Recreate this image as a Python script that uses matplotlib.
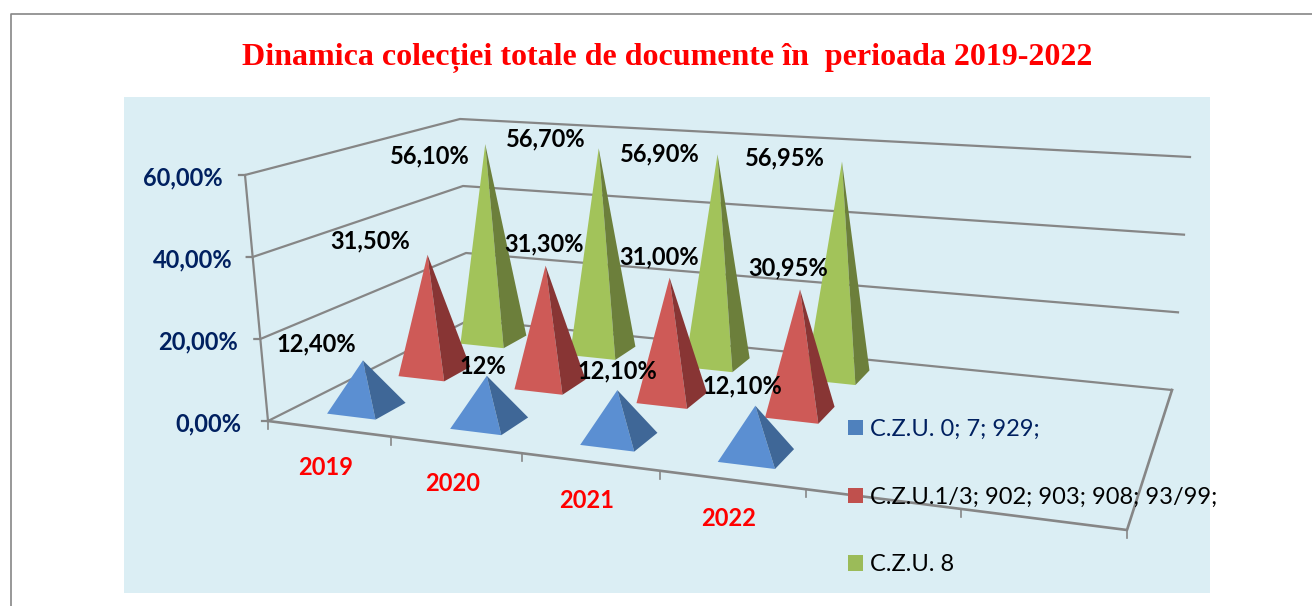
import numpy as np
import matplotlib
matplotlib.use("Agg")
import matplotlib.pyplot as plt
from matplotlib.patches import Polygon, Rectangle

# values
years = ["2019", "2020", "2021", "2022"]
series_names = ["C.Z.U. 0; 7; 929;", "C.Z.U.1/3; 902; 903; 908; 93/99;", "C.Z.U. 8"]
blue_vals = [12.40, 12.00, 12.10, 12.10]
red_vals = [31.50, 31.30, 31.00, 30.95]
green_vals = [56.10, 56.70, 56.90, 56.95]
blue_text = ["12,40%", "12%", "12,10%", "12,10%"]
red_text = ["31,50%", "31,30%", "31,00%", "30,95%"]
green_text = ["56,10%", "56,70%", "56,90%", "56,95%"]
y_ticks = [0, 20, 40, 60]
y_tick_text = ["0,00%", "20,00%", "40,00%", "60,00%"]

GRID = "#868686"
NAVY = "#002060"
light = ["#5B8FD2", "#CE5A57", "#A2C35A"]
dark = ["#3F6797", "#883534", "#6C7F3B"]
n_slots = 6  # the axis has two empty category slots after 2022

# floor corners of the 3d box on the canvas (front-left, front-right, back-right, back-left)
floor = np.array([[268, 421], [1127, 530], [1172, 390], [469, 320]], dtype=float)
# how far a 60% wall reaches above each corner
rise = np.array([[-23, -246], [4, -277], [18, -233], [-9, -201]], dtype=float)


def get_homography():
    src = [(0, 0), (1, 0), (1, 1), (0, 1)]
    A, b = [], []
    for (u, v), (x, y) in zip(src, floor):
        A.append([u, v, 1, 0, 0, 0, -u * x, -v * x])
        A.append([0, 0, 0, u, v, 1, -u * y, -v * y])
        b += [x, y]
    return np.append(np.linalg.solve(np.array(A), np.array(b)), 1).reshape(3, 3)


H = get_homography()


def project(u, v, val=0):
    # u = category position (0..n_slots), v = series depth (0..1), val = percent
    p = H @ np.array([u / n_slots, v, 1])
    xy = p[:2] / p[2]
    s, t = u / n_slots, v
    r = (1 - s) * (1 - t) * rise[0] + s * (1 - t) * rise[1] + s * t * rise[2] + (1 - s) * t * rise[3]
    return xy + r * val / 60


fig = plt.figure(figsize=(13.12, 6.06), dpi=100)
ax = fig.add_axes([0, 0, 1, 1])
ax.set_xlim(0, 1312)
ax.set_ylim(606, 0)
ax.axis("off")

# page frame and chart panel
ax.plot([11, 11, 1312], [606, 14, 14], color=GRID, lw=1.2, zorder=1)
ax.add_patch(Rectangle((124, 97), 1086, 496, facecolor="#DBEEF4", edgecolor="none", zorder=1))
ax.text(667, 58, "Dinamica colecției totale de documente în  perioada 2019-2022", color="#FF0000",
        family="Liberation Serif", weight="bold", fontsize=23, ha="center", va="center")

# walls and floor
tick_pads = [27, 22, 20, 22]
for val, txt, pad in zip(y_ticks, y_tick_text, tick_pads):
    a, b, c = project(0, 0, val), project(0, 1, val), project(n_slots, 1, val)
    ax.plot([a[0] - 6, a[0], b[0], c[0]], [a[1], a[1], b[1], c[1]], color=GRID, lw=1.6, zorder=2)
    ax.text(a[0] - pad, a[1] + 3, txt, color=NAVY, family="Lato", weight="bold", fontsize=17,
            ha="right", va="center")
a, b = project(0, 0), project(0, 0, 60)
ax.plot([a[0], b[0]], [a[1], b[1]], color=GRID, lw=1.6, zorder=2)
corners = [project(n_slots, 1), project(n_slots, 0), project(0, 0)]
ax.plot([p[0] for p in corners], [p[1] for p in corners], color=GRID, lw=1.9, zorder=2)
for i in range(n_slots + 1):
    p = project(i, 0)
    ax.plot([p[0], p[0]], [p[1], p[1] + 8], color=GRID, lw=1.2, zorder=2)

# year labels under the slots
for i, year in enumerate(years):
    p = project(i + 0.5, 0)
    ax.text(p[0] - 3, p[1] + 39, year, color="#FF0000", family="Lato", weight="bold", fontsize=17,
            ha="center", va="center")

# pyramids, back row first so the front ones cover them
all_vals = [blue_vals, red_vals, green_vals]
half_u, half_v = 0.2, 0.07
tip_drop = 2
tips = {}
for s in [2, 1, 0]:
    v = (s + 0.5) / 3
    for i, val in enumerate(all_vals[s]):
        u = i + 0.5
        left = project(u - half_u, v - half_v)
        front = project(u + half_u, v - half_v)
        right = project(u + half_u, v + half_v)
        tip = project(u, v, val) + np.array([0, tip_drop])
        tips[(s, i)] = tip
        z = 5 + (2 - s)
        ax.add_patch(Polygon([left, front, tip], closed=True, facecolor=light[s], edgecolor="none", zorder=z))
        ax.add_patch(Polygon([front, right, tip], closed=True, facecolor=dark[s], edgecolor="none", zorder=z))

# data labels, offset from each tip
label_offsets = [
    [(-47, 16), (-4, 9), (0, 19), (-13, 20)],
    [(-57, 14), (-2, 22), (-11, 21), (-12, 22)],
    [(-55, -12), (-53, 9), (-58, 0), (-57, 4)],
]
all_text = [blue_text, red_text, green_text]
for s in range(3):
    for i in range(len(years)):
        ax.annotate(all_text[s][i], xy=tips[(s, i)], xytext=label_offsets[s][i],
                    textcoords="offset pixels", color="black", family="Lato", weight="bold",
                    fontsize=17, ha="center", va="center", zorder=12)

# legend
handles = [Rectangle((0, 0), 1, 1, facecolor=c, edgecolor="none") for c in ["#4F81BD", "#C0504D", "#9BBB59"]]
leg = ax.legend(handles, series_names, loc="upper left", bbox_to_anchor=(848, 419), bbox_transform=ax.transData,
                frameon=False, prop={"family": "Lato", "size": 17}, labelspacing=1.975,
                handlelength=0.635, handleheight=0.635, handletextpad=0.3, borderpad=0, borderaxespad=0)
leg.set_zorder(15)
leg.get_texts()[0].set_color(NAVY)

fig.savefig("out.png", dpi=100)
